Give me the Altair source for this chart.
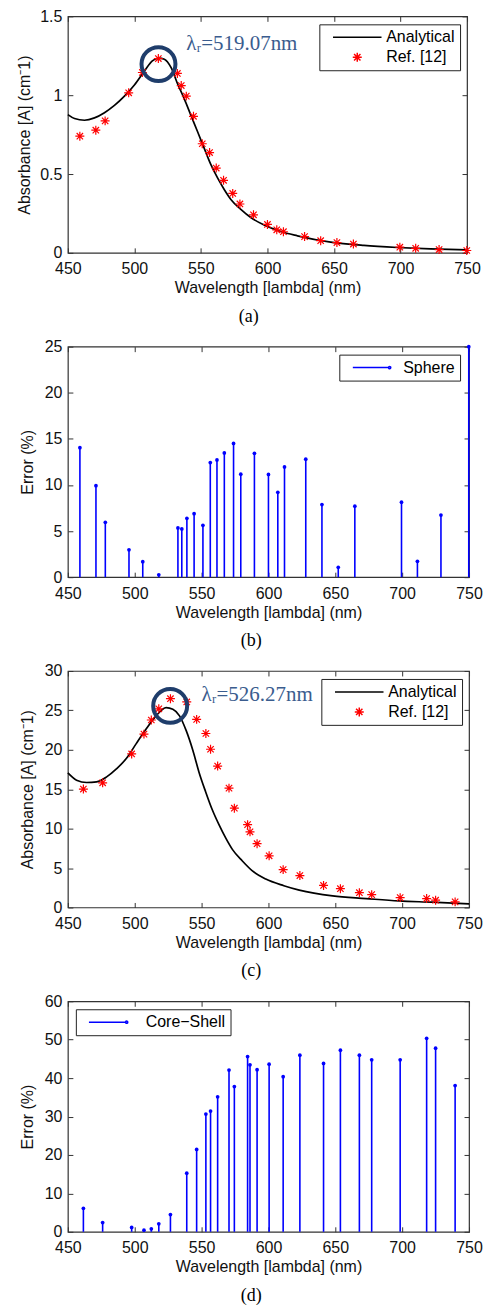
import altair as alt
import pandas as pd

# ---------------- data ----------------
x_ticks = [450, 500, 550, 600, 650, 700, 750]

# (a) sphere: analytical absorbance curve
sph_curve_wl = [450, 455, 462.5, 470, 477.5, 485, 492.5, 500, 507.5, 513.5, 518.5, 522.5,
                527.5, 532.5, 537.5, 542.5, 547.5, 552.5, 557.5, 562.5, 567.5, 572.5, 580,
                587.5, 597.5, 610, 622.5, 647.5, 672.5, 697.5, 722.5, 750]
sph_curve_abs = [0.877, 0.852, 0.841, 0.856, 0.889, 0.935, 0.994, 1.065, 1.153, 1.218, 1.235, 1.228,
                 1.176, 1.071, 0.977, 0.872, 0.768, 0.663, 0.559, 0.475, 0.402, 0.339, 0.276,
                 0.224, 0.176, 0.135, 0.108, 0.068, 0.047, 0.034, 0.025, 0.019]
# (a) Ref. [12] points and (b) error for the sphere
sph_ref_wl = [459, 471, 478, 495.7, 506, 518, 532.3, 535.2, 539, 544.4,
              551, 556.5, 561.5, 567, 573.9, 579.3, 589.5, 600, 607, 612,
              627.9, 640, 652.2, 664.6, 699.5, 711.4, 729, 749.8]
sph_ref_abs = [0.74, 0.778, 0.837, 1.015, 1.144, 1.232, 1.138, 1.061, 0.994, 0.866,
               0.692, 0.636, 0.538, 0.46, 0.377, 0.31, 0.241, 0.18, 0.146, 0.134,
               0.103, 0.077, 0.065, 0.056, 0.036, 0.029, 0.021, 0.015]
sph_err = [14.04, 9.92, 5.95, 2.97, 1.68, 0.25, 5.34, 5.23, 6.38, 6.88,
           5.62, 12.43, 12.71, 13.47, 14.5, 11.17, 13.43, 11.14, 9.2, 11.96,
           12.79, 7.88, 1.07, 7.7, 8.13, 1.72, 6.73, 25]

# (c) core-shell: analytical absorbance curve
cs_curve_wl = [450, 456.5, 464, 471.5, 479, 486.5, 494, 501, 508.5, 516, 523.5, 528.5,
               533.5, 538.5, 543.5, 548, 553, 558, 563, 568, 573, 580.5, 588, 598,
               611.5, 623, 648, 673, 697.5, 722, 750]
cs_curve_abs = [17.07, 16.15, 15.85, 15.94, 16.57, 17.61, 18.95, 20.75, 22.63, 24.31, 25.35, 25.14,
                24.31, 22.43, 19.92, 17.2, 14.69, 12.39, 10.5, 8.82, 7.37, 5.9, 4.64, 3.6,
                2.76, 2.2, 1.46, 1.13, 0.83, 0.67, 0.46]
# (c) Ref. [12] points and (d) error for the core-shell
cs_ref_wl = [461.6, 476, 497.7, 506.9, 512.4, 518, 526.7, 538.9, 546.3, 553.2,
             556.7, 562, 570.5, 574.5, 584.4, 586.2, 591.5, 600.5, 611, 623.5,
             641.2, 653.8, 668, 677.2, 698.5, 718.3, 725, 739.6]
cs_ref_abs = [15.02, 15.81, 19.48, 21.99, 23.78, 25.2, 26.49, 26.07, 23.86, 22.07,
              20.07, 17.94, 15.14, 12.6, 10.51, 9.6, 8.09, 6.55, 4.8, 4.05,
              2.8, 2.38, 1.88, 1.63, 1.25, 1.13, 0.92, 0.71]
cs_err = [6.11, 2.41, 1.12, 0.43, 0.77, 2.07, 4.48, 15.24, 21.43, 30.64,
          31.42, 35.12, 42.09, 37.79, 45.62, 43.47, 42.18, 43.64, 40.37, 45.97,
          43.82, 47.26, 45.97, 44.76, 44.76, 50.36, 47.78, 38.05]

# annotations (data units)
sph_peak = (518.1, 1.197)
sph_note = (539, 1.287, "λᵣ=519.07nm")
cs_peak = (526.5, 25.57)
cs_note = (550, 26.2, "λᵣ=526.27nm")

series_abs = ["Analytical", "Ref. [12]"]

# ---------------- style ----------------
FONT = "Liberation Sans"
SERIF = "Liberation Serif"
FRAME = "#333333"
NAVY = "#1f3d6b"
NAVY_TXT = "#3a5c8e"
BLUE = "#0000ff"

STAR = "M0,-1L0,1M-1,0L1,0M-0.71,-0.71L0.71,0.71M-0.71,0.71L0.71,-0.71"
LINE_A = "M-5.4,0L5.4,0"


def stem_key(half):
    return (f"M{-half},0L{half},0M{half - 0.25},0a0.25,0.25 0 1,0 0.5,0"
            f"a0.25,0.25 0 1,0 -0.5,0")


xscale = alt.Scale(domain=[450, 750], nice=False, zero=False)


def bottom_axis():
    return alt.Axis(orient="bottom", values=x_ticks, title="Wavelength [lambda] (nm)",
                    offset=-5, tickSize=5, domain=False, grid=False, labelFlush=False,
                    labelOverlap=False, labelPadding=8, titlePadding=3)


def left_axis(vals, title, title_x):
    return alt.Axis(orient="left", values=vals, title=title, offset=-5, tickSize=5,
                    domain=False, grid=False, labelPadding=6, labelOverlap=False,
                    labelExpr="'' + datum.value", titleX=title_x)


def top_axis():
    return alt.Axis(orient="top", values=x_ticks, labels=False, title=None, offset=-5,
                    tickSize=5, domain=False, grid=False)


def right_axis(vals):
    return alt.Axis(orient="right", values=vals, labels=False, title=None, offset=-5,
                    tickSize=5, domain=False, grid=False)


def caption(text):
    return alt.TitleParams(text, orient="bottom", anchor="middle", frame="bounds",
                           offset=12, font=SERIF, fontSize=18, fontWeight="normal",
                           color="black")


def make_legend(lx, ly, sym_off, lab_off):
    return alt.Legend(title=None, orient="none", legendX=lx, legendY=ly, padding=5,
                      rowPadding=4, symbolOffset=sym_off, labelOffset=lab_off, symbolSize=81,
                      symbolStrokeWidth=1.5, strokeColor="#222222", fillColor="white",
                      labelAlign="left", labelFont=FONT, labelFontSize=16,
                      labelColor="black")


def absorbance_panel(curve_wl, curve_abs, ref_wl, ref_abs, y_max, y_vals, ytitle, title_x,
                     peak, note, lx, ly, width, height, cap):
    curve = pd.DataFrame({"wl": curve_wl, "A": curve_abs})
    ref = pd.DataFrame({"wl": ref_wl, "A": ref_abs, "series": "Ref. [12]"})
    yscale = alt.Scale(domain=[0, y_max], nice=False)

    line = alt.Chart(curve).mark_line(color="black", strokeWidth=1.7,
                                      interpolate="monotone").encode(
        x=alt.X("wl:Q", scale=xscale, axis=bottom_axis()),
        y=alt.Y("A:Q", scale=yscale, axis=left_axis(y_vals, ytitle, title_x)),
    )
    leg = make_legend(lx, ly, 25, 21)
    stars = alt.Chart(ref).mark_point(filled=False, strokeWidth=1.2, size=81, opacity=1).encode(
        x=alt.X("wl:Q", scale=xscale, axis=None),
        y=alt.Y("A:Q", scale=yscale, axis=None),
        color=alt.Color("series:N", scale=alt.Scale(domain=series_abs, range=["black", "red"]),
                        legend=leg),
        shape=alt.Shape("series:N", scale=alt.Scale(domain=series_abs, range=[LINE_A, STAR]),
                        legend=leg),
    )
    ring = alt.Chart(pd.DataFrame({"wl": [peak[0]], "A": [peak[1]]})).mark_point(
        shape="circle", filled=False, size=1156, strokeWidth=4, color=NAVY, opacity=1
    ).encode(
        x=alt.X("wl:Q", scale=xscale, axis=None),
        y=alt.Y("A:Q", scale=yscale, axis=None),
    )
    txt = alt.Chart(pd.DataFrame({"wl": [note[0]], "A": [note[1]], "t": [note[2]]})).mark_text(
        align="left", baseline="alphabetic", font=SERIF, fontSize=21, color=NAVY_TXT
    ).encode(
        x=alt.X("wl:Q", scale=xscale, axis=None),
        y=alt.Y("A:Q", scale=yscale, axis=None),
        text="t:N",
    )
    mirror = alt.Chart(ref).mark_point(opacity=0).encode(
        x=alt.X("wl:Q", scale=xscale, axis=top_axis()),
        y=alt.Y("A:Q", scale=yscale, axis=right_axis(y_vals)),
    )
    return alt.layer(line, stars, ring, txt, mirror).resolve_axis(
        x="independent", y="independent"
    ).properties(width=width, height=height, title=caption(cap))


def error_panel(wl, err, name, y_max, y_vals, title_x, lx, ly, sym_off, lab_off, half,
                width, height, cap):
    df = pd.DataFrame({"wl": wl, "err": err, "series": name})
    yscale = alt.Scale(domain=[0, y_max], nice=False)
    stems = alt.Chart(df).mark_rule(color=BLUE, strokeWidth=1.6).encode(
        x=alt.X("wl:Q", scale=xscale, axis=bottom_axis()),
        y=alt.Y("err:Q", scale=yscale, axis=left_axis(y_vals, "Error (%)", title_x)),
        y2=alt.Y2Datum(0),
    )
    tips = alt.Chart(df).mark_circle(color=BLUE, size=14, opacity=1).encode(
        x=alt.X("wl:Q", scale=xscale, axis=None),
        y=alt.Y("err:Q", scale=yscale, axis=None),
    )
    leg = make_legend(lx, ly, sym_off, lab_off)
    key = alt.Chart(df).transform_filter("false").mark_point(
        filled=False, strokeWidth=1.5, size=81, opacity=1
    ).encode(
        x=alt.X("wl:Q", scale=xscale, axis=None),
        y=alt.Y("err:Q", scale=yscale, axis=None),
        color=alt.Color("series:N", scale=alt.Scale(domain=[name], range=[BLUE]), legend=leg),
        shape=alt.Shape("series:N", scale=alt.Scale(domain=[name], range=[stem_key(half)]),
                        legend=leg),
    )
    mirror = alt.Chart(df).mark_point(opacity=0).encode(
        x=alt.X("wl:Q", scale=xscale, axis=top_axis()),
        y=alt.Y("err:Q", scale=yscale, axis=right_axis(y_vals)),
    )
    return alt.layer(stems, tips, key, mirror).resolve_axis(
        x="independent", y="independent"
    ).properties(width=width, height=height, title=caption(cap))


pa = absorbance_panel(sph_curve_wl, sph_curve_abs, sph_ref_wl, sph_ref_abs, 1.5,
                      [0, 0.5, 1, 1.5], "Absorbance [A] (cm⁻1)", -40,
                      sph_peak, sph_note, 252, 8, 400, 237, "(a)")
pb = error_panel(sph_ref_wl, sph_err, "Sphere", 25, [0, 5, 10, 15, 20, 25], -37,
                 272, 8, 19, 24, 4.1, 402, 231, "(b)")
pc = absorbance_panel(cs_curve_wl, cs_curve_abs, cs_ref_wl, cs_ref_abs, 30,
                      [0, 5, 10, 15, 20, 25, 30], "Absorbance [A] (cm⁻1)", -37,
                      cs_peak, cs_note, 254, 8, 402, 237, "(c)")
pd_ = error_panel(cs_ref_wl, cs_err, "Core−Shell", 60, [0, 10, 20, 30, 40, 50, 60], -37,
                  8, 8, 19, 30, 4.2, 402, 231, "(d)")

chart = alt.vconcat(pa, pb, pc, pd_, spacing=11).resolve_scale(
    color="independent", shape="independent"
).resolve_legend(
    color="independent", shape="independent"
).properties(
    padding={"left": 8, "top": -2, "right": 0, "bottom": 0}
).configure_view(
    stroke=FRAME, strokeWidth=1.2
).configure_axis(
    labelFont=FONT, labelFontSize=16, labelColor="#111111",
    titleFont=FONT, titleFontSize=16, titleFontWeight="normal", titleColor="#111111",
    tickColor=FRAME, tickWidth=1,
)

chart.save("out.html", embed_options={"renderer": "svg", "actions": False})
